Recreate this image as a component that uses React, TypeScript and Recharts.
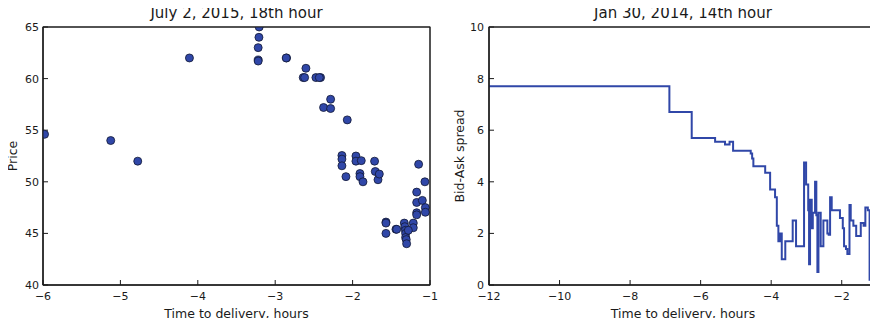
import React from "react";
import {
  ScatterChart,
  Scatter,
  LineChart,
  Line,
  XAxis,
  YAxis,
  CartesianGrid,
} from "recharts";

// left panel: trades, July 2, 2015, 18th hour
const tradeTime = [
  -5.98, -5.125, -4.776, -4.108, -3.207, -3.21, -3.22, -3.22, -3.22, -2.853,
  -2.858, -2.603, -2.638, -2.62, -2.474, -2.414, -2.43, -2.284, -2.375, -2.284,
  -2.069, -2.138, -2.138, -2.138, -2.086, -1.957, -1.957, -1.888, -1.905, -1.905,
  -1.866, -1.716, -1.707, -1.672, -1.655, -1.569, -1.569, -1.569, -1.44, -1.43,
  -1.332, -1.325, -1.318, -1.315, -1.315, -1.307, -1.302, -1.216, -1.216, -1.172,
  -1.172, -1.172, -1.172, -1.147, -1.099, -1.066, -1.06, -1.06, -1.28,
];
const tradePrice = [
  54.6, 54.0, 52.0, 62.0, 65.0, 64.0, 63.0, 61.8, 61.7, 62.0,
  62.0, 61.0, 60.1, 60.1, 60.1, 60.1, 60.1, 58.0, 57.2, 57.1,
  56.0, 52.55, 52.2, 51.55, 50.5, 52.5, 52.0, 52.05, 50.8, 50.5,
  50.0, 52.0, 51.0, 50.2, 50.75, 46.1, 46.0, 45.0, 45.4, 45.4,
  46.0, 45.65, 45.3, 45.0, 44.6, 44.4, 44.0, 46.0, 45.55, 49.0,
  48.0, 47.0, 46.8, 51.7, 48.2, 50.0, 47.5, 47.05, 45.3,
];
const priceXTicks = [-6, -5, -4, -3, -2, -1];
const priceYTicks = [40, 45, 50, 55, 60, 65];

// right panel: bid-ask spread, Jan 30, 2014, 14th hour
const spreadTime = [
  -12, -6.886, -6.253, -5.59, -5.31, -5.18, -5.08, -4.58, -4.54, -4.505,
  -4.17, -4.03, -3.89, -3.84, -3.796, -3.749, -3.7, -3.6, -3.39, -3.295,
  -3.068, -3.01, -2.95, -2.926, -2.898, -2.85, -2.82, -2.756, -2.72, -2.69,
  -2.66, -2.596, -2.52, -2.407, -2.37, -2.33, -2.284, -2.05, -1.97, -1.934,
  -1.88, -1.84, -1.78, -1.745, -1.67, -1.59, -1.46, -1.38, -1.33, -1.26,
  -1.21, -1.18, -1.16, -1.08, -1.055, -1.03, -1.01, -1.0,
];
const spreadValue = [
  7.7, 6.71, 5.7, 5.55, 5.45, 5.55, 5.2, 5.1, 4.9, 4.6,
  4.35, 3.7, 3.4, 2.3, 1.7, 2.0, 1.0, 1.7, 2.5, 1.5,
  4.75, 3.9, 2.9, 0.8, 3.3, 2.2, 2.8, 4.0, 2.7, 0.5,
  2.8, 1.5, 2.5, 2.0, 1.95, 3.4, 2.9, 2.6, 2.2, 1.5,
  1.4, 1.2, 3.1, 2.5, 2.3, 1.9, 2.4, 2.3, 3.0, 2.9,
  0.2, 0.5, 4.0, 2.8, 2.9, 0.0, 3.1, 3.1,
];
const spreadXTicks = [-12, -10, -8, -6, -4, -2];
const spreadYTicks = [0, 2, 4, 6, 8, 10];

const trades = tradeTime.map((t, i) => ({ t, p: tradePrice[i] }));
const spread = spreadTime.map((t, i) => ({ t, s: spreadValue[i] }));

const BLUE = "#3047a8";
const INK = "#1a1a1a";
const fmt = (v: number) => String(v).replace("-", "\u2212");
const tickStyle = { fontSize: 11, fill: INK };
const labelStyle = { fontSize: 12.5, fill: INK };
const frame = { stroke: INK, strokeWidth: 1 };

// plot box edges, from the chart's own layout
const edgesH = (p: any) =>
  p && p.offset ? [p.offset.top, p.offset.top + p.offset.height] : [];
const edgesV = (p: any) =>
  p && p.offset ? [p.offset.left, p.offset.left + p.offset.width] : [];

const Dot = (props: any) => (
  <circle
    cx={props.cx}
    cy={props.cy}
    r={4}
    fill={BLUE}
    stroke="#111833"
    strokeWidth={0.8}
  />
);

const titleStyle = (center: number): React.CSSProperties => ({
  position: "absolute",
  top: 4,
  left: center - 150,
  width: 300,
  textAlign: "center",
  fontSize: 15,
  lineHeight: "18px",
  color: INK,
});

const App = () => {
  return (
    <div
      style={{
        position: "relative",
        width: 878,
        height: 326,
        margin: -8,
        background: "#fff",
        fontFamily: "'DejaVu Sans', sans-serif",
      }}
    >
      <div style={titleStyle(236.5)}>July 2, 2015, 18th hour</div>
      <div style={titleStyle(683)}>Jan 30, 2014, 14th hour</div>

      <div style={{ position: "absolute", left: 0, top: 0 }}>
        <ScatterChart
          width={440}
          height={326}
          margin={{ top: 27, right: 10, bottom: 0, left: 0 }}
        >
          <CartesianGrid
            stroke={INK}
            horizontalCoordinatesGenerator={edgesH}
            verticalCoordinatesGenerator={edgesV}
          />
          <XAxis
            type="number"
            dataKey="t"
            domain={[-6, -1]}
            ticks={priceXTicks}
            allowDataOverflow
            height={41}
            tickSize={-5}
            tickMargin={12}
            tick={tickStyle}
            tickFormatter={fmt}
            axisLine={frame}
            tickLine={frame}
            label={{
              value: "Time to delivery, hours",
              position: "insideBottom",
              offset: 8,
              style: labelStyle,
            }}
          />
          <YAxis
            type="number"
            dataKey="p"
            domain={[40, 65]}
            ticks={priceYTicks}
            allowDataOverflow
            width={43}
            tickSize={-5}
            tickMargin={9}
            tick={tickStyle}
            axisLine={frame}
            tickLine={frame}
            label={{
              value: "Price",
              angle: -90,
              position: "insideLeft",
              offset: 13,
              style: { ...labelStyle, textAnchor: "middle" },
            }}
          />
          <Scatter data={trades} shape={Dot} isAnimationActive={false} />
        </ScatterChart>
      </div>

      <div style={{ position: "absolute", left: 440, top: 0 }}>
        <LineChart
          width={438}
          height={326}
          data={spread}
          margin={{ top: 27, right: 1, bottom: 0, left: 0 }}
        >
          <CartesianGrid
            stroke={INK}
            horizontalCoordinatesGenerator={edgesH}
            verticalCoordinatesGenerator={edgesV}
          />
          <XAxis
            type="number"
            dataKey="t"
            domain={[-12, -1]}
            ticks={spreadXTicks}
            allowDataOverflow
            height={41}
            tickSize={-5}
            tickMargin={12}
            tick={tickStyle}
            tickFormatter={fmt}
            axisLine={frame}
            tickLine={frame}
            label={{
              value: "Time to delivery, hours",
              position: "insideBottom",
              offset: 8,
              style: labelStyle,
            }}
          />
          <YAxis
            type="number"
            domain={[0, 10]}
            ticks={spreadYTicks}
            allowDataOverflow
            width={49}
            tickSize={-5}
            tickMargin={10}
            tick={tickStyle}
            axisLine={frame}
            tickLine={frame}
            label={{
              value: "Bid-Ask spread",
              angle: -90,
              position: "insideLeft",
              offset: 20,
              style: { ...labelStyle, textAnchor: "middle" },
            }}
          />
          <Line
            type="stepAfter"
            dataKey="s"
            stroke={BLUE}
            strokeWidth={2}
            dot={false}
            isAnimationActive={false}
          />
        </LineChart>
      </div>

      {/* plot box outlines */}
      <svg
        width={878}
        height={326}
        style={{ position: "absolute", left: 0, top: 0, pointerEvents: "none" }}
      >
        <rect x={43} y={27} width={387} height={258} fill="none" stroke={INK} />
        <rect x={489} y={27} width={388} height={258} fill="none" stroke={INK} />
      </svg>
    </div>
  );
};

export default App;
